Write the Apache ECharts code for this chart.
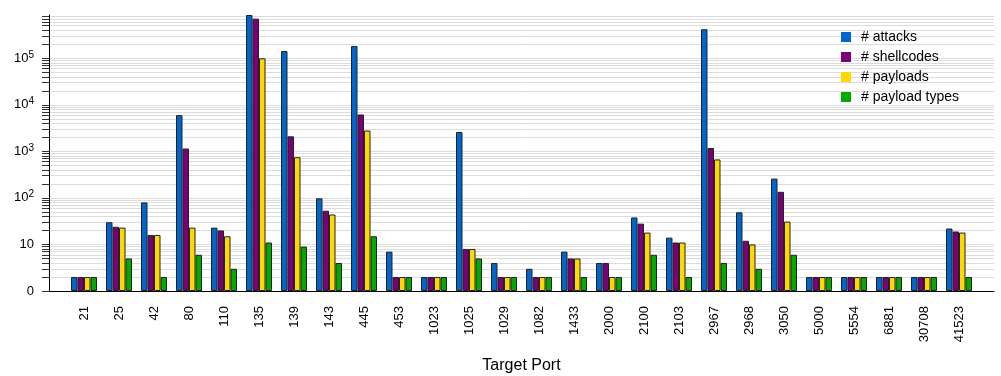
<!DOCTYPE html>
<html>
<head>
<meta charset="utf-8">
<script src="https://cdn.jsdelivr.net/npm/echarts@6/dist/echarts.min.js"></script>
<style>
  html, body { margin: 0; padding: 0; background: #fff; }
  #chart { width: 1001px; height: 376px; }
</style>
</head>
<body>
<div id="chart"></div>
<script>
// target ports (categories)
const ports = ['21', '25', '42', '80', '110', '135', '139', '143', '445', '453', '1023', '1025', '1029',
  '1082', '1433', '2000', '2100', '2103', '2967', '2968', '3050', '5000', '5554', '6881', '30708', '41523']

// counts per port
const attacks = [2, 30, 80, 6000, 23, 850000, 143000, 98, 183000, 7, 2, 2600, 4,
  3, 7, 4, 38, 14, 420000, 49, 260, 2, 2, 2, 2, 22]
const shellcodes = [2, 24, 16, 1150, 20, 710000, 2100, 53, 6200, 2, 2, 8, 2,
  2, 5, 4, 28, 11, 1180, 12, 135, 2, 2, 2, 2, 19]
const payloads = [2, 23, 16, 23, 15, 100000, 750, 44, 2800, 2, 2, 8, 2,
  2, 5, 2, 18, 11, 670, 10, 31, 2, 2, 2, 2, 18]
const payloadTypes = [2, 5, 2, 6, 3, 11, 9, 4, 15, 2, 2, 5, 2,
  2, 2, 2, 6, 2, 4, 3, 6, 2, 2, 2, 2, 2]

// log axis: "0" is drawn at 1, top of plot a little under 10^6
const yMin = 1
const yMax = 850000
const decades = [1, 10, 100, 1000, 10000, 100000]
const mantissas = [1, 2, 3, 4, 5, 6, 7, 8, 9]

const gridValues = []
decades.forEach(d => {
  mantissas.forEach(m => {
    if (m * d <= yMax) gridValues.push(m * d)
  })
})

const seriesNames = ['# attacks', '# shellcodes', '# payloads', '# payload types']
const seriesColors = ['#0066cc', '#7a0078', '#ffd800', '#00aa00']
const seriesData = [attacks, shellcodes, payloads, payloadTypes]

const font = 'Liberation Sans'

const chart = echarts.init(document.getElementById('chart'))

const option = {
  animation: false,
  textStyle: { fontFamily: font },
  legend: {
    orient: 'vertical',
    left: 836,
    top: 25,
    itemWidth: 10,
    itemHeight: 10,
    itemGap: 6,
    icon: 'rect',
    itemStyle: { borderWidth: 0 },
    textStyle: { fontFamily: font, fontSize: 14, color: '#000', padding: [0, 0, 0, 5] },
    data: seriesNames,
  },
  grid: { left: 49, right: 7, top: 15, bottom: 85, outerBoundsMode: 'none' },
  // x is the port index, one unit of padding on each side
  xAxis: {
    type: 'value',
    min: -1,
    max: ports.length,
    interval: 1,
    axisLine: { show: true, onZero: false, lineStyle: { color: '#000', width: 1 } },
    axisTick: { show: false },
    splitLine: { show: false },
    axisLabel: {
      rotate: 90,
      margin: 15,
      fontSize: 13,
      color: '#000',
      fontFamily: font,
      showMinLabel: false,
      showMaxLabel: false,
      formatter: v => {
        const i = Math.round(v)
        return i >= 0 && i < ports.length ? ports[i] : ''
      },
    },
    name: 'Target Port',
    nameLocation: 'middle',
    nameGap: 67,
    nameTextStyle: { fontSize: 16, color: '#000', fontFamily: font },
  },
  yAxis: {
    type: 'log',
    logBase: 10,
    min: yMin,
    max: yMax,
    axisLine: { show: true, onZero: false, lineStyle: { color: '#000', width: 1 } },
    axisTick: {
      show: true,
      length: 7,
      customValues: gridValues,
      lineStyle: { color: '#333' },
    },
    axisLabel: {
      customValues: decades,
      margin: 15,
      fontSize: 13,
      color: '#000',
      fontFamily: font,
      formatter: v => {
        const n = Math.round(Math.log10(v))
        if (n === 0) return '0'
        if (n === 1) return '10'
        return '10{sup|' + n + '}'
      },
      rich: {
        sup: { fontSize: 10, color: '#000', fontFamily: font, padding: [0, 0, 7, 0] },
      },
    },
    splitLine: { show: true, lineStyle: { color: '#dcdcdc', width: 1 } },
  },
  series: seriesNames.map((name, i) => ({
    name: name,
    type: 'bar',
    barWidth: 6.5,
    barGap: '0%',
    itemStyle: {
      color: seriesColors[i],
      borderColor: '#222',
      borderWidth: 1,
    },
    data: seriesData[i].map((v, j) => [j, v]),
  })),
}

chart.setOption(option)
</script>
</body>
</html>
